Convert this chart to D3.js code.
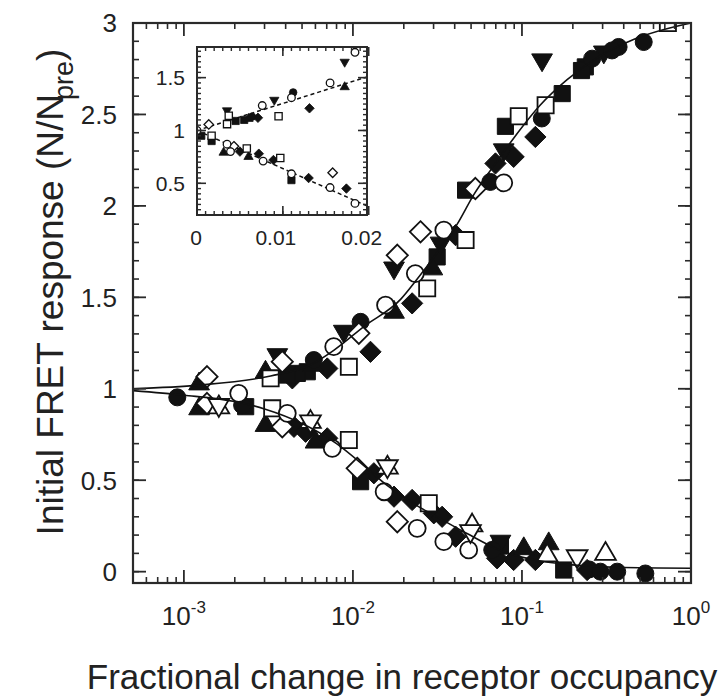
<!DOCTYPE html>
<html><head><meta charset="utf-8">
<script src="https://cdn.jsdelivr.net/npm/d3@7"></script>
<style>
body{margin:0;background:#fff}
text{font-family:"Liberation Sans",Arial,Helvetica,sans-serif;fill:#222}
</style>
</head><body>
<svg id="c" width="728" height="697"></svg>
<script>
// ---------------- DATA ----------------
const xTickValues = [1e-3, 1e-2, 1e-1, 1];
const xTickExponents = ["-3", "-2", "-1", "0"];
const yTickValues = [0, 0.5, 1, 1.5, 2, 2.5, 3];
const yTickLabels = ["0", "0.5", "1", "1.5", "2", "2.5", "3"];
const insetXTickValues = [0, 0.01, 0.02];
const insetXTickLabels = ["0", "0.01", "0.02"];
const insetYTickValues = [0.5, 1, 1.5];
const insetYTickLabels = ["0.5", "1", "1.5"];

// fitted curves
const upFitX = [0.0005,0.00123,0.00326,0.0056,0.0077,0.0116,0.0192,0.024,0.033,0.0414,0.0518,0.0682,0.0893,0.128,0.185,0.29,0.457,1.0];
const upFitY = [1.0,1.02,1.07,1.13,1.21,1.34,1.49,1.60,1.77,1.90,2.06,2.22,2.37,2.55,2.69,2.82,2.91,3.0];
const downFitX = [0.0005,0.001,0.002,0.003,0.005,0.008,0.0116,0.016,0.025,0.03,0.047,0.075,0.117,0.185,0.366,1.0];
const downFitY = [0.99,0.965,0.93,0.89,0.81,0.70,0.58,0.47,0.35,0.31,0.21,0.115,0.065,0.04,0.024,0.019];

// main panel markers [x, y]
const filledCircles = [[0.525,2.896],[0.373,2.869],[0.341,2.85],[0.26,2.805],[0.131,2.478],[0.065,2.131],[0.0111,1.366],[0.00587,1.157],
  [0.000914,0.953],[0.00221,0.91],[0.0667,0.119],[0.25,0.012],[0.291,0.0],[0.366,0.0],[0.537,-0.01]];
const openCircles = [[0.078,2.126],[0.0345,1.867],[0.0234,1.63],[0.0156,1.457],[0.0077,1.23],
  [0.00211,0.975],[0.00409,0.866],[0.00755,0.674],[0.0153,0.437],[0.024,0.237],[0.0345,0.164],[0.0484,0.119]];
const filledSquares = [[0.237,2.76],[0.225,2.74],[0.173,2.614],[0.0798,2.435],[0.0464,2.086],[0.0315,1.721],[0.00537,1.093],[0.00469,1.084],[0.00409,1.075],
  [0.00232,0.902],[0.0111,0.492],[0.1766,0.009],[0.0746,0.14]];
const openSquares = [[0.138,2.55],[0.0957,2.49],[0.0464,1.813],[0.0275,1.549],[0.00946,1.12],[0.00326,1.057],[0.73,3.0],
  [0.00333,0.893],[0.00946,0.72],[0.0281,0.374]];
const filledDiamonds = [[0.120,2.377],[0.0893,2.268],[0.0697,2.232],[0.0405,1.84],[0.0224,1.467],[0.0127,1.202],[0.00705,1.111],[0.00438,1.057],
  [0.00448,0.792],[0.00525,0.765],[0.00705,0.729],[0.0133,0.538],[0.0175,0.41],[0.0224,0.392],[0.0301,0.319],[0.0337,0.30],[0.0405,0.191],
  [0.0713,0.073],[0.0893,0.064],[0.12,0.064],[0.243,0.009]];
const openDiamonds = [[0.053,2.095],[0.0251,1.858],[0.0183,1.73],[0.01084,1.303],[0.00382,1.148],[0.00137,1.066],
  [0.00137,0.92],[0.00382,0.792],[0.0106,0.565],[0.0183,0.273]];
const filledTrianglesUp = [[0.0295,1.667],[0.0175,1.43],[0.00304,1.102],[0.00123,1.038],[0.0058,1.14],
  [0.00123,0.902],[0.00304,0.811],[0.00601,0.72],[0.1025,0.137],[0.144,0.164]];
const openTrianglesUp = [[0.00161,0.91],[0.00561,0.83],[0.016,0.58],[0.0507,0.264],[0.141,0.1],[0.312,0.109]];
const filledTrianglesDown = [[0.305,2.83],[0.1315,2.787],[0.078,2.295],[0.033,1.785],[0.0175,1.649],[0.00883,1.303],[0.00357,1.175],
  [0.0746,0.155]];
const openTrianglesDown = [[0.00161,0.90],[0.00561,0.81],[0.016,0.565],[0.0496,0.21],[0.212,0.073]];

// inset markers [x, y]
const insetOpenCircles = [[0,1.0],[0.0076,1.236],[0.011,1.31],[0.0155,1.45],[0.0184,1.74],
  [0.0035,0.87],[0.0039,0.80],[0.0077,0.71],[0.011,0.59],[0.0155,0.46],[0.0184,0.31]];
const insetFilledCircles = [[0.0112,1.36],[0.0064,1.13]];
const insetFilledTrianglesDown = [[0.0035,1.18],[0.009,1.28],[0.0172,1.64]];
const insetOpenSquares = [[0.0037,1.14],[0.0035,1.06],[0.0095,1.135],[0.0017,0.95],[0.0058,0.83],[0.0097,0.74]];
const insetFilledSquares = [[0.0045,1.09],[0.0055,1.1],[0.0005,0.95],[0.0017,0.9],[0.011,0.53]];
const insetFilledDiamonds = [[0.0131,1.21],[0.0071,1.12],[0.0072,0.78],[0.0089,0.72],[0.013,0.55],[0.0174,0.45],[0.005,0.80]];
const insetFilledTrianglesUp = [[0.0172,1.42],[0.006,1.12],[0.0031,0.80],[0.006,0.76]];
const insetOpenDiamonds = [[0.00137,1.057],[0.0043,0.85],[0.0158,0.60]];
const insetUpLineX = [0, 0.0198];
const insetUpLineY = [1.0, 1.507];
const insetDownLineX = [0, 0.0198];
const insetDownLineY = [1.0, 0.286];

// ---------------- DRAW ----------------
const svg = d3.select("#c");
const M = {left:133, right:691, top:23, bottom:583};
const x = d3.scaleLog().domain([5e-4, 1]).range([M.left, M.right]);
const y = d3.scaleLinear().domain([-0.062, 3]).range([M.bottom, M.top]);
const AX = "#2a2a2a";

function shapePath(t, s) {
  if (t === "circle") return d3.symbol(d3.symbolCircle, Math.PI*s*s)();
  if (t === "square") { const a = s*0.95; return `M${-a},${-a}H${a}V${a}H${-a}Z`; }
  if (t === "diamond") { const d = s*1.25; return `M0,${-d}L${d},0L0,${d}L${-d},0Z`; }
  const w = s*1.22, h1 = s*1.15, h2 = s*0.95;
  if (t === "triUp") return `M0,${-h1}L${w},${h2}L${-w},${h2}Z`;
  return `M0,${h1}L${w},${-h2}L${-w},${-h2}Z`;
}

svg.append("defs").append("clipPath").attr("id","clipMain")
  .append("rect").attr("x",M.left).attr("y",M.top).attr("width",M.right-M.left).attr("height",M.bottom-M.top);

const mainSeries = [
  {d: filledDiamonds, t:"diamond", f:true},
  {d: filledSquares, t:"square", f:true},
  {d: filledTrianglesUp, t:"triUp", f:true},
  {d: filledTrianglesDown, t:"triDown", f:true},
  {d: filledCircles, t:"circle", f:true},
  {d: openSquares, t:"square", f:false},
  {d: openDiamonds, t:"diamond", f:false},
  {d: openCircles, t:"circle", f:false},
  {d: openTrianglesUp, t:"triUp", f:false},
  {d: openTrianglesDown, t:"triDown", f:false}
];

const gMain = svg.append("g").attr("clip-path","url(#clipMain)");
mainSeries.forEach(s => {
  gMain.selectAll(null).data(s.d).enter().append("path")
    .attr("d", shapePath(s.t, 8.5))
    .attr("transform", d => `translate(${x(d[0])},${y(d[1])})`)
    .attr("fill", s.f ? "#111" : "#fff")
    .attr("stroke", "#111").attr("stroke-width", s.f ? 1 : 1.8);
});

const line = d3.line().x(d => x(d[0])).y(d => y(d[1])).curve(d3.curveMonotoneX);
gMain.append("path").attr("d", line(d3.zip(upFitX, upFitY)))
  .attr("fill","none").attr("stroke","#111").attr("stroke-width",1.6);
gMain.append("path").attr("d", line(d3.zip(downFitX, downFitY)))
  .attr("fill","none").attr("stroke","#111").attr("stroke-width",1.6);

// axes frame and ticks
const gAx = svg.append("g").attr("stroke", AX).attr("fill","none");
gAx.append("rect").attr("x",M.left).attr("y",M.top).attr("width",M.right-M.left).attr("height",M.bottom-M.top)
  .attr("stroke-width",2.2);
const xMinor = [];
for (let e = -4; e <= -1; e++) for (let m = 2; m <= 9; m++) { const v = m*Math.pow(10,e); if (v >= 5e-4 && v < 1) xMinor.push(v); }
xMinor.forEach(v => {
  gAx.append("line").attr("x1",x(v)).attr("x2",x(v)).attr("y1",M.bottom).attr("y2",M.bottom-6).attr("stroke-width",1.6);
  gAx.append("line").attr("x1",x(v)).attr("x2",x(v)).attr("y1",M.top).attr("y2",M.top+6).attr("stroke-width",1.6);
});
xTickValues.forEach(v => {
  gAx.append("line").attr("x1",x(v)).attr("x2",x(v)).attr("y1",M.bottom).attr("y2",M.bottom-13).attr("stroke-width",1.8);
  gAx.append("line").attr("x1",x(v)).attr("x2",x(v)).attr("y1",M.top).attr("y2",M.top+13).attr("stroke-width",1.8);
});
d3.range(0, 30).map(i => i*0.1).forEach(v => {
  gAx.append("line").attr("x1",M.left).attr("x2",M.left+6).attr("y1",y(v)).attr("y2",y(v)).attr("stroke-width",1.6);
  gAx.append("line").attr("x1",M.right).attr("x2",M.right-6).attr("y1",y(v)).attr("y2",y(v)).attr("stroke-width",1.6);
});
yTickValues.forEach(v => {
  gAx.append("line").attr("x1",M.left).attr("x2",M.left+13).attr("y1",y(v)).attr("y2",y(v)).attr("stroke-width",1.8);
  gAx.append("line").attr("x1",M.right).attr("x2",M.right-13).attr("y1",y(v)).attr("y2",y(v)).attr("stroke-width",1.8);
});

// tick labels
yTickValues.forEach((v,i) => {
  svg.append("text").attr("x",117).attr("y",y(v)).attr("dy","0.36em").attr("text-anchor","end")
    .attr("font-size",26).text(yTickLabels[i]);
});
xTickValues.forEach((v,i) => {
  const t = svg.append("text").attr("x",x(v)).attr("y",625).attr("text-anchor","middle").attr("font-size",26);
  t.append("tspan").text("10");
  t.append("tspan").attr("font-size",17).attr("dy",-12).text(xTickExponents[i]);
});

// axis titles
svg.append("text").attr("x",402).attr("y",689).attr("text-anchor","middle").attr("font-size",35)
  .text("Fractional change in receptor occupancy");
const yt = svg.append("text").attr("transform","translate(63,292) rotate(-90)").attr("text-anchor","middle").attr("font-size",37);
yt.append("tspan").text("Initial FRET response (N/N");
yt.append("tspan").attr("font-size",27).attr("dy",10).attr("dx",-6).text("pre");
yt.append("tspan").attr("dy",-10).text(")");

// ---------------- INSET ----------------
const I = {left:197, right:367, top:47, bottom:215};
const ix = d3.scaleLinear().domain([0, 0.0198]).range([I.left, I.right]);
const iy = d3.scaleLinear().domain([0.2, 1.79]).range([I.bottom, I.top]);
svg.append("defs").append("clipPath").attr("id","clipInset")
  .append("rect").attr("x",I.left).attr("y",I.top).attr("width",I.right-I.left).attr("height",I.bottom-I.top);
svg.append("rect").attr("x",I.left).attr("y",I.top).attr("width",I.right-I.left).attr("height",I.bottom-I.top).attr("fill","#fff");
const gIn = svg.append("g").attr("clip-path","url(#clipInset)");
const insetSeries = [
  {d: insetFilledDiamonds, t:"diamond", f:true},
  {d: insetFilledSquares, t:"square", f:true},
  {d: insetFilledTrianglesUp, t:"triUp", f:true},
  {d: insetFilledTrianglesDown, t:"triDown", f:true},
  {d: insetFilledCircles, t:"circle", f:true},
  {d: insetOpenSquares, t:"square", f:false},
  {d: insetOpenDiamonds, t:"diamond", f:false},
  {d: insetOpenCircles, t:"circle", f:false}
];
const iline = d3.line().x(d => ix(d[0])).y(d => iy(d[1]));
gIn.append("path").attr("d", iline(d3.zip(insetUpLineX, insetUpLineY))).attr("fill","none")
  .attr("stroke","#111").attr("stroke-width",1.5).attr("stroke-dasharray","4,3");
gIn.append("path").attr("d", iline(d3.zip(insetDownLineX, insetDownLineY))).attr("fill","none")
  .attr("stroke","#111").attr("stroke-width",1.5).attr("stroke-dasharray","4,3");
insetSeries.forEach(s => {
  gIn.selectAll(null).data(s.d).enter().append("path")
    .attr("d", shapePath(s.t, 3.8))
    .attr("transform", d => `translate(${ix(d[0])},${iy(d[1])})`)
    .attr("fill", s.f ? "#111" : "#fff")
    .attr("stroke", "#111").attr("stroke-width", s.f ? 0.8 : 1.3);
});
const gIA = svg.append("g").attr("stroke", AX).attr("fill","none");
gIA.append("rect").attr("x",I.left).attr("y",I.top).attr("width",I.right-I.left).attr("height",I.bottom-I.top).attr("stroke-width",2);
d3.range(1, 20).map(i => i*0.001).forEach(v => {
  gIA.append("line").attr("x1",ix(v)).attr("x2",ix(v)).attr("y1",I.top).attr("y2",I.top+4).attr("stroke-width",1.4);
  gIA.append("line").attr("x1",ix(v)).attr("x2",ix(v)).attr("y1",I.bottom).attr("y2",I.bottom-4).attr("stroke-width",1.4);
});
insetXTickValues.forEach(v => {
  gIA.append("line").attr("x1",ix(v)).attr("x2",ix(v)).attr("y1",I.top).attr("y2",I.top+9).attr("stroke-width",1.6);
  gIA.append("line").attr("x1",ix(v)).attr("x2",ix(v)).attr("y1",I.bottom).attr("y2",I.bottom-9).attr("stroke-width",1.6);
});
d3.range(5, 36).map(i => i*0.05).forEach(v => {
  gIA.append("line").attr("x1",I.left).attr("x2",I.left+4).attr("y1",iy(v)).attr("y2",iy(v)).attr("stroke-width",1.4);
  gIA.append("line").attr("x1",I.right).attr("x2",I.right-4).attr("y1",iy(v)).attr("y2",iy(v)).attr("stroke-width",1.4);
});
insetYTickValues.forEach(v => {
  gIA.append("line").attr("x1",I.left).attr("x2",I.left+9).attr("y1",iy(v)).attr("y2",iy(v)).attr("stroke-width",1.6);
  gIA.append("line").attr("x1",I.right).attr("x2",I.right-9).attr("y1",iy(v)).attr("y2",iy(v)).attr("stroke-width",1.6);
});
insetYTickValues.forEach((v,i) => {
  svg.append("text").attr("x",185).attr("y",iy(v)).attr("dy","0.36em").attr("text-anchor","end")
    .attr("font-size",21).text(insetYTickLabels[i]);
});
insetXTickValues.forEach((v,i) => {
  svg.append("text").attr("x",ix(v) - (i===0?1:7)).attr("y",245).attr("text-anchor","middle")
    .attr("font-size",21).text(insetXTickLabels[i]);
});
</script>
</body></html>
